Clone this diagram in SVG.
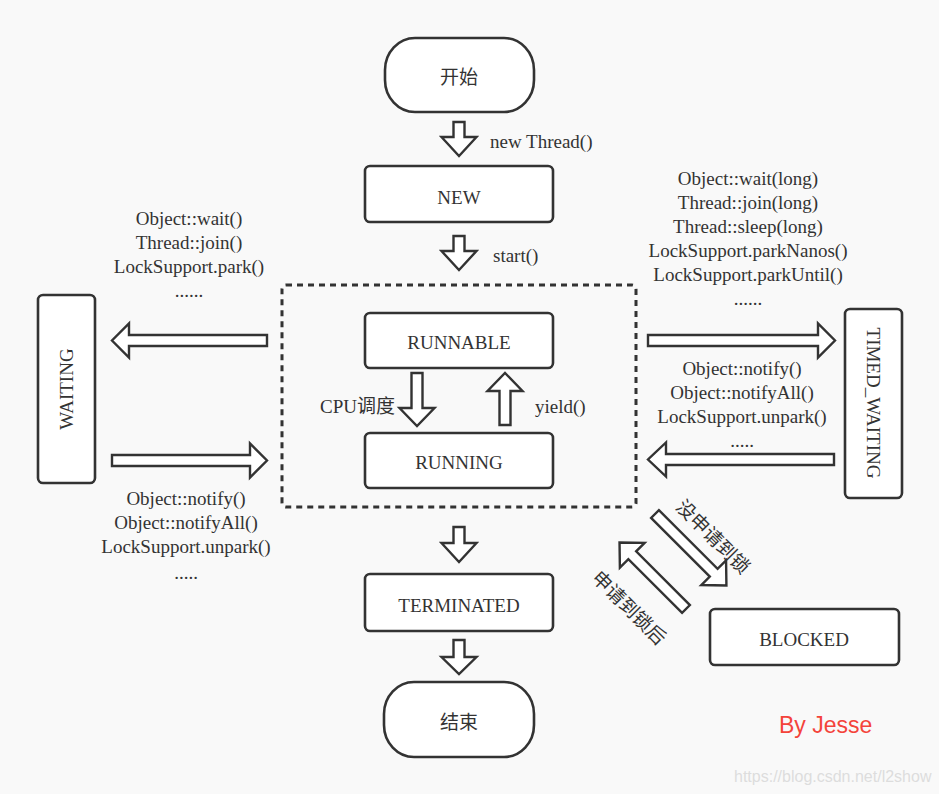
<svg xmlns="http://www.w3.org/2000/svg" width="939" height="794" viewBox="0 0 939 794">
<style>
.bg{fill:#f9f9f9}
.box{fill:#ffffff;stroke:#333333;stroke-width:2.6}
.dash{fill:none;stroke:#333333;stroke-width:3;stroke-dasharray:6 5}
.arr{fill:#ffffff;stroke:#333333;stroke-width:2.4;stroke-linejoin:miter}
.t{font-family:"Liberation Serif","Times New Roman",serif;font-size:19px;fill:#333333}
.c{text-anchor:middle}
.cjk{font-family:"Liberation Serif","Noto Sans CJK SC",serif;font-size:19px;fill:#333333}
.sig{font-family:"Liberation Sans",Arial,sans-serif;font-size:23px;fill:#f4433b}
.wm{font-family:"Liberation Sans",Arial,sans-serif;font-size:16px;fill:#dddddd}
</style>
<rect class="bg" x="0" y="0" width="939" height="794"/>

<g id="connectors">
  <path class="arr" d="M453.5,122 H464.5 V137 H476.5 L459,156 L441.5,137 H453.5 Z"/>
  <path class="arr" d="M453.5,236 H464.5 V251 H476.5 L459,270 L441.5,251 H453.5 Z"/>
  <path class="arr" d="M411.5,373 H422.5 V408 H434.5 L417,426 L399.5,408 H411.5 Z"/>
  <path class="arr" d="M499.5,425 H510.5 V391 H522.5 L505,373 L487.5,391 H499.5 Z"/>
  <path class="arr" d="M267,335 V346 H129 V357.5 L112,340.5 L129,323.5 V335 Z"/>
  <path class="arr" d="M112,455 V466 H250 V477.5 L267,460.5 L250,443.5 V455 Z"/>
  <path class="arr" d="M648,335 V346 H818 V357.5 L835,340.5 L818,323.5 V335 Z"/>
  <path class="arr" d="M834,454 V465 H666 V476.5 L648,459.5 L666,442.5 V454 Z"/>
  <path class="arr" d="M453.5,527 H464.5 V543 H476.5 L459,562 L441.5,543 H453.5 Z"/>
  <path class="arr" d="M453.5,640 H464.5 V657 H476.5 L459,674 L441.5,657 H453.5 Z"/>
  <path class="arr" transform="translate(655,514) rotate(45)" d="M0,-5.5 H83 V-17.5 L101,0 L83,17.5 V5.5 H0 Z"/>
  <path class="arr" transform="translate(686,609) rotate(-135)" d="M0,-5.5 H76 V-17.5 L94,0 L76,17.5 V5.5 H0 Z"/>
  <text class="t" x="490" y="148">new Thread()</text>
  <text class="t" x="493" y="262">start()</text>
  <text class="cjk" x="320" y="413">CPU调度</text>
  <text class="t" x="535" y="413">yield()</text>
  <text class="t c" x="189" y="225">Object::wait()</text>
  <text class="t c" x="189" y="249">Thread::join()</text>
  <text class="t c" x="189" y="273">LockSupport.park()</text>
  <text class="t c" x="189" y="297">......</text>
  <text class="t c" x="186" y="505">Object::notify()</text>
  <text class="t c" x="186" y="529">Object::notifyAll()</text>
  <text class="t c" x="186" y="553">LockSupport.unpark()</text>
  <text class="t c" x="186" y="579">.....</text>
  <text class="t c" x="748" y="185">Object::wait(long)</text>
  <text class="t c" x="748" y="209">Thread::join(long)</text>
  <text class="t c" x="748" y="233">Thread::sleep(long)</text>
  <text class="t c" x="748" y="257">LockSupport.parkNanos()</text>
  <text class="t c" x="748" y="281">LockSupport.parkUntil()</text>
  <text class="t c" x="748" y="305">......</text>
  <text class="t c" x="742" y="375">Object::notify()</text>
  <text class="t c" x="742" y="399">Object::notifyAll()</text>
  <text class="t c" x="742" y="423">LockSupport.unpark()</text>
  <text class="t c" x="742" y="447">.....</text>
  <text class="cjk c" transform="translate(713,537) rotate(45)" dominant-baseline="central">没申请到锁</text>
  <text class="cjk c" transform="translate(629,608) rotate(45)" dominant-baseline="central">申请到锁后</text>
</g>

<g id="start">
  <rect class="box" x="385" y="38" width="149" height="74" rx="30" ry="32"/>
  <text class="cjk c" x="459" y="84">开始</text>
</g>
<g id="new">
  <rect class="box" x="365" y="166" width="188" height="56" rx="5"/>
  <text class="t c" x="459" y="204">NEW</text>
</g>
<g id="alive">
  <rect class="dash" x="282" y="285" width="354" height="222" rx="4"/>
</g>
<g id="runnable">
  <rect class="box" x="365" y="313" width="188" height="55" rx="5"/>
  <text class="t c" x="459" y="349">RUNNABLE</text>
</g>
<g id="running">
  <rect class="box" x="365" y="433" width="188" height="55" rx="5"/>
  <text class="t c" x="459" y="469">RUNNING</text>
</g>
<g id="waiting">
  <rect class="box" x="38" y="295" width="57" height="188" rx="5"/>
  <text class="t c" transform="translate(66,389) rotate(-90)" dominant-baseline="central">WAITING</text>
</g>
<g id="timed_waiting">
  <rect class="box" x="845" y="309" width="57" height="189" rx="5"/>
  <text class="t c" transform="translate(873,403) rotate(90)" dominant-baseline="central">TIMED_WAITING</text>
</g>
<g id="terminated">
  <rect class="box" x="365" y="574" width="188" height="57" rx="5"/>
  <text class="t c" x="459" y="612">TERMINATED</text>
</g>
<g id="blocked">
  <rect class="box" x="710" y="609" width="189" height="56" rx="5"/>
  <text class="t c" x="804" y="646">BLOCKED</text>
</g>
<g id="end">
  <rect class="box" x="384" y="682" width="150" height="75" rx="30" ry="32"/>
  <text class="cjk c" x="459" y="729">结束</text>
</g>
<text class="sig" x="779" y="733">By Jesse</text>
<text class="wm" x="734" y="782">https://blog.csdn.net/l2show</text>
</svg>
